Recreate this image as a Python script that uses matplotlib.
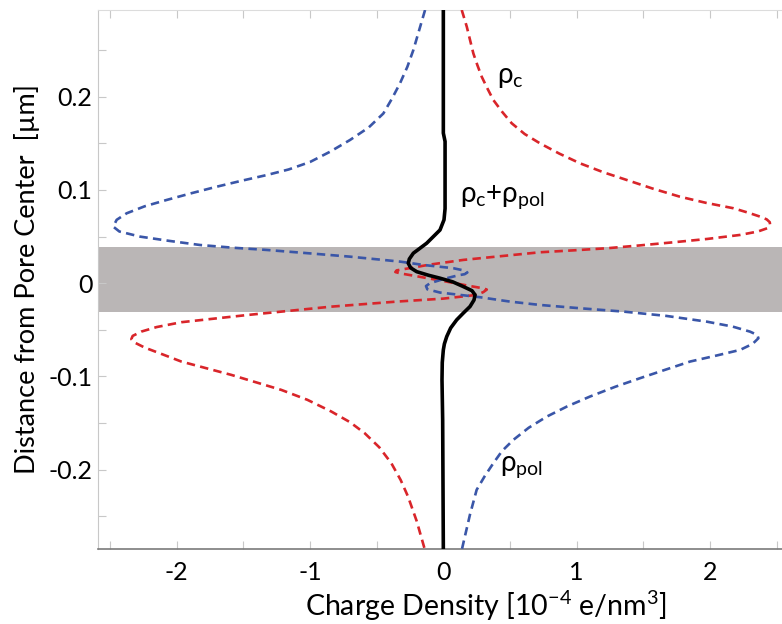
import matplotlib
matplotlib.use('Agg')
import matplotlib.pyplot as plt
import numpy as np

plt.rcParams['font.family'] = ['Lato', 'DejaVu Sans']
plt.rcParams['mathtext.fontset'] = 'custom'
plt.rcParams['mathtext.rm'] = 'Lato'
plt.rcParams['mathtext.it'] = 'Lato'

# rho_c (red dashed), traced as x(y)
rho_c_x = [0.138, 0.155, 0.176, 0.20, 0.225, 0.255, 0.288, 0.33, 0.375, 0.44,
           0.513, 0.61, 0.725, 0.87, 1.025, 1.2, 1.376, 1.57, 1.774, 1.97,
           2.176, 2.29, 2.376, 2.425, 2.448, 2.451, 2.43, 2.36, 2.226, 1.98,
           1.725, 1.47, 1.226, 0.97, 0.725, 0.43, 0.150, -0.10, -0.28, -0.35,
           -0.36, -0.32, -0.20, 0.0255, 0.20, 0.30, 0.326, 0.30, 0.25, 0.0,
           -0.35, -0.84, -1.465, -1.965, -2.15, -2.266, -2.33, -2.34, -2.31, -2.24,
           -2.12, -1.965, -1.59, -1.215, -1.02, -0.84, -0.70, -0.59, -0.48, -0.39,
           -0.32, -0.265, -0.20, -0.14]
rho_c_y = [0.293, 0.285, 0.275, 0.261, 0.2465, 0.234, 0.2214, 0.209, 0.1965, 0.184,
           0.1715, 0.160, 0.150, 0.139, 0.1286, 0.119, 0.1107, 0.1015, 0.0928, 0.0862,
           0.0804, 0.0755, 0.0714, 0.0685, 0.0655, 0.0625, 0.0590, 0.0555, 0.0518, 0.0475,
           0.0439, 0.0405, 0.0375, 0.0352, 0.0332, 0.029, 0.025, 0.020, 0.0155, 0.0138,
           0.012, 0.0105, 0.0075, 0.0017, -0.003, -0.0055, -0.0068, -0.0095, -0.0125, -0.0165,
           -0.0197, -0.0251, -0.034, -0.0418, -0.047, -0.0519, -0.0565, -0.060, -0.064, -0.069,
           -0.0755, -0.084, -0.0983, -0.1144, -0.125, -0.1376, -0.149, -0.1608, -0.176, -0.193,
           -0.211, -0.2287, -0.255, -0.285]

# rho_pol (blue dashed)
rho_pol_x = [-0.137, -0.18, -0.225, -0.27, -0.325, -0.385, -0.45, -0.56, -0.70, -0.85,
             -1.0, -1.16, -1.325, -1.51, -1.70, -1.89, -2.075, -2.24, -2.375, -2.45,
             -2.476, -2.43, -2.275, -2.06, -1.825, -1.57, -1.325, -1.0, -0.70, -0.325,
             -0.15, 0.075, 0.16, 0.18, 0.16, 0.1125, 0.0, -0.10, -0.13, -0.12,
             -0.025, 0.275, 0.50, 0.725, 1.04, 1.35, 1.67, 1.976, 2.17, 2.30,
             2.355, 2.363, 2.32, 2.226, 2.05, 1.85, 1.66, 1.476, 1.29, 1.10,
             0.93, 0.776, 0.64, 0.525, 0.44, 0.375, 0.31, 0.25, 0.20, 0.15, 0.14]
rho_pol_y = [0.293, 0.272, 0.250, 0.232, 0.2144, 0.198, 0.182, 0.167, 0.1536, 0.141,
             0.130, 0.122, 0.116, 0.110, 0.1035, 0.0965, 0.0893, 0.0825, 0.075, 0.068,
             0.0607, 0.0555, 0.050, 0.0455, 0.041, 0.038, 0.0357, 0.032, 0.0285, 0.0232,
             0.0196, 0.0161, 0.0135, 0.0115, 0.0097, 0.0085, 0.0045, 0.0, -0.003, -0.0065,
             -0.010, -0.015, -0.0197, -0.0233, -0.027, -0.0304, -0.035, -0.0412, -0.0465, -0.0519,
             -0.0555, -0.059, -0.065, -0.0715, -0.0775, -0.084, -0.093, -0.1018, -0.111, -0.1215,
             -0.132, -0.143, -0.155, -0.168, -0.180, -0.193, -0.207, -0.2215, -0.248, -0.2787, -0.285]

# rho_c + rho_pol (black)
total_x = [0.0, 0.0, 0.013, 0.013, 0.005, -0.025, -0.075, -0.125, -0.18, -0.225,
           -0.255, -0.263, -0.245, -0.20, -0.11, -0.025, 0.07, 0.15, 0.215, 0.238,
           0.23, 0.20, 0.15, 0.10, 0.055, 0.0255, 0.008, 0.0, -0.008, -0.01,
           -0.005, 0.0]
total_y = [0.293, 0.161, 0.152, 0.080, 0.068, 0.0571, 0.050, 0.0429, 0.037, 0.0322,
           0.026, 0.0214, 0.0165, 0.0124, 0.0085, 0.0054, 0.0015, -0.0036, -0.008, -0.0125,
           -0.018, -0.025, -0.032, -0.0393, -0.048, -0.0572, -0.065, -0.0715, -0.085, -0.1036,
           -0.1465, -0.285]

pore_top, pore_bottom = 0.0392, -0.0304

fig = plt.figure(figsize=(7.82, 6.24), dpi=100)
ax = fig.add_axes([98 / 782, 1 - 549 / 624, 1 - 98 / 782, (549 - 10) / 624])

ax.axhspan(pore_bottom, pore_top, color='#bab6b6', lw=0, zorder=1)

ax.plot(rho_c_x, rho_c_y, color='#d9252a', lw=1.9, ls=(0, (3.2, 2.0)), zorder=3)
ax.plot(rho_pol_x, rho_pol_y, color='#3a56a8', lw=1.9, ls=(0, (3.2, 2.0)), zorder=3)
ax.plot(total_x, total_y, color='black', lw=2.6, zorder=4, solid_joinstyle='round')

ax.text(0.40, 0.221, r'ρ$_{\mathrm{c}}$', fontsize=20, va='center', ha='left')
ax.text(0.125, 0.0925, r'ρ$_{\mathrm{c}}$+ρ$_{\mathrm{pol}}$', fontsize=20, va='center', ha='left')
ax.text(0.425, -0.1966, r'ρ$_{\mathrm{pol}}$', fontsize=20, va='center', ha='left')

ax.set_xlim(-2.59, 2.54)
ax.set_ylim(-0.285, 0.293)

ax.set_xticks([-2, -1, 0, 1, 2])
ax.set_xticks(np.arange(-2.5, 2.51, 0.5), minor=True)
ax.set_yticks([-0.2, -0.1, 0, 0.1, 0.2])
ax.set_yticklabels(['-0.2', '-0.1', '0', '0.1', '0.2'])
ax.set_xticklabels(['-2', '-1', '0', '1', '2'])
ax.set_yticks(np.arange(-0.25, 0.26, 0.05), minor=True)

ax.tick_params(which='both', direction='in', length=6, width=0.8, color='#c8c8c8',
               top=True, right=False, labelsize=18)
ax.tick_params(axis='x', pad=9)
ax.tick_params(axis='y', pad=4)

ax.spines['right'].set_visible(False)
ax.spines['left'].set_color('#c8c8c8')
ax.spines['top'].set_color('#dcdcdc')
ax.spines['bottom'].set_color('#7a7a7a')
ax.spines['bottom'].set_linewidth(1.2)

ax.set_xlabel(r'Charge Density [10$^{\mathrm{-4}}$ e/nm$^{\mathrm{3}}$]', fontsize=20.5)
ax.xaxis.set_label_coords(0.567, -0.074, transform=ax.transAxes)
ax.set_ylabel(r'Distance from Pore Center  [µm]', fontsize=19.5, labelpad=6)

fig.savefig('out.png', dpi=100)
